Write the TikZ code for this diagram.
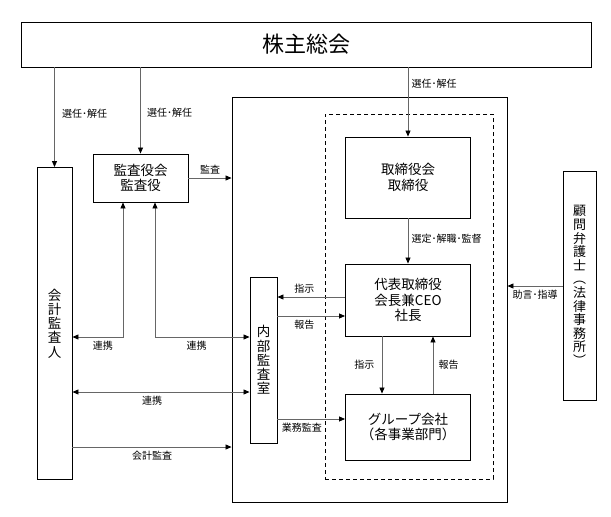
\documentclass[tikz,border=0pt]{standalone}
\usepackage{fontspec}
\setmainfont{Noto Sans CJK JP}
\usetikzlibrary{arrows.meta}

\begin{document}
\begin{tikzpicture}[x=1pt,y=-1pt,
  >={Triangle[length=6pt,width=5pt,color=black]},
  box/.style={draw,line width=0.9pt,align=center,inner sep=0pt,font=\fontsize{13.5}{15.5}\selectfont},
  tate/.style={box,font=\fontsize{13.5}{14.2}\selectfont},
  arr/.style={draw=black!60,line width=0.8pt,->},
  both/.style={draw=black!60,line width=0.8pt,<->},
  lbl/.style={font=\fontsize{10}{11}\selectfont}]
\useasboundingbox (0,0) rectangle (611,517);
% boxes
\node[box,minimum width=570pt,minimum height=45pt,font=\fontsize{22}{26}\selectfont] (gms) at (306,44.5) {株主総会};
\node[box,minimum width=275pt,minimum height=405pt] (company) at (369.5,299.5) {};
\node[draw,dashed,dash pattern=on 4pt off 3pt,line width=0.9pt,minimum width=168pt,minimum height=365pt] (exec) at (409,296.5) {};
\node[box,minimum width=125pt,minimum height=81pt] (board) at (408,177.5) {取締役会\\取締役};
\node[box,minimum width=125pt,minimum height=72pt] (ceo) at (408,300) {代表取締役\\会長兼CEO\\社長};
\node[box,minimum width=125pt,minimum height=66pt,font=\fontsize{13.5}{14.5}\selectfont] (group) at (408,427) {グループ会社\\（各事業部門）};
\node[box,minimum width=95pt,minimum height=48pt] (kansa) at (140.5,178) {監査役会\\監査役};
\node[tate,minimum width=35pt,minimum height=312pt] (auditor) at (54.5,323.5) {会\\計\\監\\査\\人};
\node[tate,minimum width=27pt,minimum height=166pt] (naibu) at (263.5,360) {内\\部\\監\\査\\室};
\node[tate,minimum width=33pt,minimum height=229pt,font=\fontsize{13}{13.6}\selectfont] (lawyer) at (579.5,285.5) {顧\\問\\弁\\護\\士\\︵\\法\\律\\事\\務\\所\\︶};

% connectors
\draw[arr] (gms.south -| auditor.north) -- node[lbl,right,pos=0.46,xshift=4pt]{選任･解任} (auditor.north);
\draw[arr] (gms.south -| kansa.north) -- node[lbl,right,pos=0.53,xshift=3pt]{選任･解任} (kansa.north);
\draw[arr] (gms.south -| board.north) -- node[lbl,right,pos=0.24]{選任･解任} (board.north);
\draw[arr] (kansa.east) -- node[lbl,above]{監査} (kansa.east -| company.west);
\draw[arr] (board.south) -- node[lbl,right,pos=0.46]{選定･解職･監督} (ceo.north);
\draw[arr] (ceo.west |- 0,297) -- node[lbl,above,pos=0.6]{指示} (naibu.east |- 0,297);
\draw[arr] (naibu.east |- 0,316) -- node[lbl,below,pos=0.4]{報告} (ceo.west |- 0,316);
\draw[arr] ([xshift=-26pt]ceo.south) -- node[lbl,left,xshift=-4pt]{指示} ([xshift=-26pt]group.north);
\draw[arr] ([xshift=25pt]group.north) -- node[lbl,right,xshift=2pt]{報告} ([xshift=25pt]ceo.south);
\draw[arr] (naibu.east |- 0,419) -- node[lbl,below,pos=0.36]{業務監査} (group.west |- 0,419);
\draw[arr] (lawyer.west |- 0,286) -- node[lbl,below]{助言･指導} (company.east |- 0,286);
\draw[both] ([xshift=-17.5pt]kansa.south) |- node[lbl,below,pos=0.7]{連携} (auditor.east |- 0,337);
\draw[both] ([xshift=14.5pt]kansa.south) |- node[lbl,below,pos=0.72]{連携} (naibu.west |- 0,337);
\draw[both] (auditor.east |- 0,392) -- node[lbl,below,pos=0.45]{連携} (naibu.west |- 0,392);
\draw[arr] (auditor.east |- 0,447) -- node[lbl,below]{会計監査} (company.west |- 0,447);
\end{tikzpicture}
\end{document}
